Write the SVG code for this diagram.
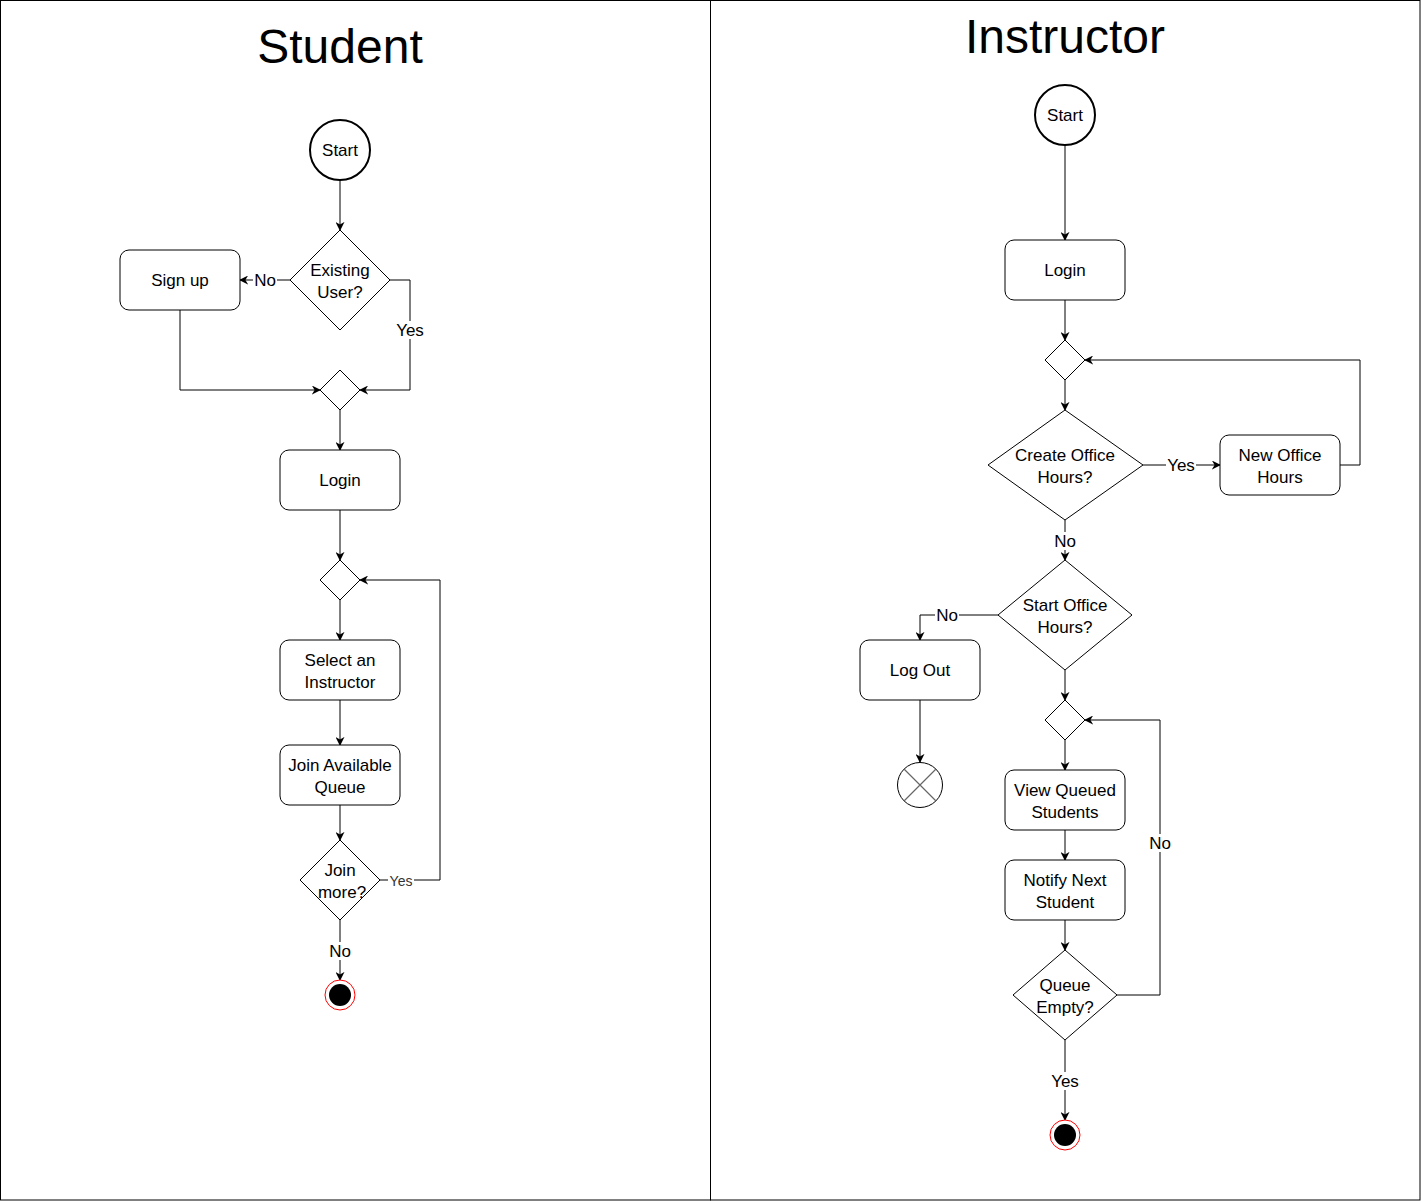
<svg xmlns="http://www.w3.org/2000/svg" width="1421" height="1201" viewBox="0 0 1421 1201">
<style>
text{font-family:"Liberation Sans",Arial,sans-serif;font-size:17px;fill:#000;text-anchor:middle}
.title{font-size:48px}
.node{fill:#fff;stroke:#000;stroke-width:1}
.start{fill:#fff;stroke:#000;stroke-width:2}
.edge{fill:none;stroke:#000;stroke-width:1}
.lbl{fill:#fff;stroke:none}
.thin{font-size:14px;fill:#333}
</style>
<defs>
<marker id="arr" viewBox="0 0 10 10" refX="9" refY="5" markerWidth="9" markerHeight="9" markerUnits="userSpaceOnUse" orient="auto">
<path d="M0,0 L10,5 L0,10 L3,5 z" fill="#000"/>
</marker>
</defs>
<rect x="0" y="0" width="1421" height="1201" fill="#fff"/>
<g id="lanes">
<rect x="0.5" y="0.5" width="710" height="1199.5" fill="none" stroke="#000"/>
<rect x="710.5" y="0.5" width="709.5" height="1199.5" fill="none" stroke="#000"/>
<text class="title" x="340" y="63">Student</text>
<text class="title" x="1065" y="53">Instructor</text>
</g>
<g id="connectors">
<path class="edge" marker-end="url(#arr)" d="M340,180 L340,230"/>
<path class="edge" marker-end="url(#arr)" d="M290,280 L240,280"/>
<path class="edge" marker-end="url(#arr)" d="M390,280 L410,280 L410,390 L360,390"/>
<path class="edge" marker-end="url(#arr)" d="M180,310 L180,390 L320,390"/>
<path class="edge" marker-end="url(#arr)" d="M340,410 L340,450"/>
<path class="edge" marker-end="url(#arr)" d="M340,510 L340,560"/>
<path class="edge" marker-end="url(#arr)" d="M340,600 L340,640"/>
<path class="edge" marker-end="url(#arr)" d="M340,700 L340,745"/>
<path class="edge" marker-end="url(#arr)" d="M340,805 L340,840"/>
<path class="edge" marker-end="url(#arr)" d="M380,880 L440,880 L440,580 L360,580"/>
<path class="edge" marker-end="url(#arr)" d="M340,920 L340,980"/>
<path class="edge" marker-end="url(#arr)" d="M1065,145 L1065,240"/>
<path class="edge" marker-end="url(#arr)" d="M1065,300 L1065,340"/>
<path class="edge" marker-end="url(#arr)" d="M1065,380 L1065,410"/>
<path class="edge" marker-end="url(#arr)" d="M1143,465 L1220,465"/>
<path class="edge" marker-end="url(#arr)" d="M1340,465 L1360,465 L1360,360 L1085,360"/>
<path class="edge" marker-end="url(#arr)" d="M1065,520 L1065,560"/>
<path class="edge" marker-end="url(#arr)" d="M998,615 L920,615 L920,640"/>
<path class="edge" marker-end="url(#arr)" d="M920,700 L920,762"/>
<path class="edge" marker-end="url(#arr)" d="M1065,670 L1065,700"/>
<path class="edge" marker-end="url(#arr)" d="M1065,740 L1065,770"/>
<path class="edge" marker-end="url(#arr)" d="M1065,830 L1065,860"/>
<path class="edge" marker-end="url(#arr)" d="M1065,920 L1065,950"/>
<path class="edge" marker-end="url(#arr)" d="M1117,995 L1160,995 L1160,720 L1085,720"/>
<path class="edge" marker-end="url(#arr)" d="M1065,1040 L1065,1120"/>
<g id="edge-labels">
<rect class="lbl" x="253" y="271" width="24" height="18"/><text x="265" y="286">No</text>
<rect class="lbl" x="395" y="321" width="30" height="18"/><text x="410" y="336">Yes</text>
<rect class="lbl" x="388" y="873" width="26" height="15"/><text class="thin" x="401" y="886">Yes</text>
<rect class="lbl" x="328" y="942" width="24" height="18"/><text x="340" y="957">No</text>
<rect class="lbl" x="1166" y="456" width="30" height="18"/><text x="1181" y="471">Yes</text>
<rect class="lbl" x="1053" y="532" width="24" height="18"/><text x="1065" y="547">No</text>
<rect class="lbl" x="935" y="606" width="24" height="18"/><text x="947" y="621">No</text>
<rect class="lbl" x="1148" y="834" width="24" height="18"/><text x="1160" y="849">No</text>
<rect class="lbl" x="1050" y="1072" width="30" height="18"/><text x="1065" y="1087">Yes</text>
</g>
</g>
<g id="s-start"><circle class="start" cx="340" cy="150" r="30"/><text x="340" y="156">Start</text></g>
<g id="s-existing"><path class="node" d="M340,230 L390,280 L340,330 L290,280 Z"/><text x="340" y="276">Existing</text><text x="340" y="298">User?</text></g>
<g id="s-signup"><rect class="node" x="120" y="250" width="120" height="60" rx="9"/><text x="180" y="286">Sign up</text></g>
<g id="s-merge1"><path class="node" d="M340,370 L360,390 L340,410 L320,390 Z"/></g>
<g id="s-login"><rect class="node" x="280" y="450" width="120" height="60" rx="9"/><text x="340" y="486">Login</text></g>
<g id="s-merge2"><path class="node" d="M340,560 L360,580 L340,600 L320,580 Z"/></g>
<g id="s-select"><rect class="node" x="280" y="640" width="120" height="60" rx="9"/><text x="340" y="666">Select an</text><text x="340" y="688">Instructor</text></g>
<g id="s-join"><rect class="node" x="280" y="745" width="120" height="60" rx="9"/><text x="340" y="771">Join Available</text><text x="340" y="793">Queue</text></g>
<g id="s-joinmore"><path class="node" d="M340,840 L380,880 L340,920 L300,880 Z"/><text x="340" y="876">Join</text><text x="342" y="898">more?</text></g>
<g id="s-end"><circle cx="340" cy="995" r="15" fill="#fff" stroke="#f00"/><circle cx="340" cy="995" r="11" fill="#000"/></g>
<g id="i-start"><circle class="start" cx="1065" cy="115" r="30"/><text x="1065" y="121">Start</text></g>
<g id="i-login"><rect class="node" x="1005" y="240" width="120" height="60" rx="9"/><text x="1065" y="276">Login</text></g>
<g id="i-merge1"><path class="node" d="M1065,340 L1085,360 L1065,380 L1045,360 Z"/></g>
<g id="i-create"><path class="node" d="M1065,410 L1143,465 L1065,520 L988,465 Z"/><text x="1065" y="461">Create Office</text><text x="1065" y="483">Hours?</text></g>
<g id="i-new"><rect class="node" x="1220" y="435" width="120" height="60" rx="9"/><text x="1280" y="461">New Office</text><text x="1280" y="483">Hours</text></g>
<g id="i-startoh"><path class="node" d="M1065,560 L1132,615 L1065,670 L998,615 Z"/><text x="1065" y="611">Start Office</text><text x="1065" y="633">Hours?</text></g>
<g id="i-logout"><rect class="node" x="860" y="640" width="120" height="60" rx="9"/><text x="920" y="676">Log Out</text></g>
<g id="i-flowend"><circle class="node" cx="920" cy="785" r="22.5"/><path d="M904,769 L936,801 M936,769 L904,801" stroke="#666" stroke-width="1.2"/></g>
<g id="i-merge2"><path class="node" d="M1065,700 L1085,720 L1065,740 L1045,720 Z"/></g>
<g id="i-view"><rect class="node" x="1005" y="770" width="120" height="60" rx="9"/><text x="1065" y="796">View Queued</text><text x="1065" y="818">Students</text></g>
<g id="i-notify"><rect class="node" x="1005" y="860" width="120" height="60" rx="9"/><text x="1065" y="886">Notify Next</text><text x="1065" y="908">Student</text></g>
<g id="i-empty"><path class="node" d="M1065,950 L1117,995 L1065,1040 L1013,995 Z"/><text x="1065" y="991">Queue</text><text x="1065" y="1013">Empty?</text></g>
<g id="i-end"><circle cx="1065" cy="1135" r="15" fill="#fff" stroke="#f00"/><circle cx="1065" cy="1135" r="11" fill="#000"/></g>
</svg>
